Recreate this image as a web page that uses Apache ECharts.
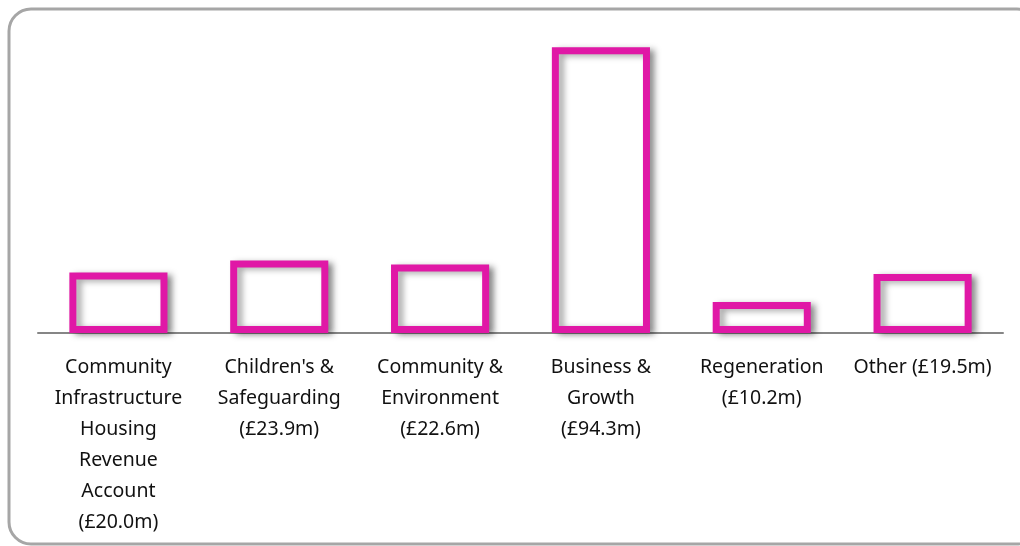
<!DOCTYPE html>
<html>
<head>
<meta charset="utf-8">
<script src="https://cdn.jsdelivr.net/npm/echarts@6/dist/echarts.min.js"></script>
<style>
  html, body { margin: 0; padding: 0; background: #fff; }
  #chart { width: 1020px; height: 546px; }
</style>
</head>
<body>
<div id="chart"></div>
<script>
// categories and spend (£m)
var categories = [
  'Community\nInfrastructure\nHousing\nRevenue\nAccount\n(£20.0m)',
  "Children's &\nSafeguarding\n(£23.9m)",
  'Community &\nEnvironment\n(£22.6m)',
  'Business &\nGrowth\n(£94.3m)',
  'Regeneration\n(£10.2m)',
  'Other (£19.5m)'
];
var values = [20.0, 23.9, 22.6, 94.3, 10.2, 19.5];

var myChart = echarts.init(document.getElementById('chart'));

myChart.setOption({
  animation: false,
  grid: { left: 38, right: 17, top: 30, bottom: 213 },
  // rounded frame
  graphic: [{
    type: 'rect',
    shape: { x: 9, y: 9, width: 1030, height: 535, r: 22 },
    style: { fill: 'none', stroke: '#a6a6a6', lineWidth: 3 },
    z: 0
  }],
  xAxis: {
    type: 'category',
    data: categories,
    axisLine: { lineStyle: { color: '#868686', width: 2 } },
    axisTick: { show: false },
    axisLabel: {
      interval: 0,
      margin: 19,
      color: '#111',
      fontFamily: 'Noto Sans',
      fontSize: 19.5,
      lineHeight: 31
    }
  },
  yAxis: {
    type: 'value',
    min: 0,
    max: 100,
    show: false,
    splitLine: { show: false }
  },
  series: [{
    type: 'bar',
    data: values,
    barWidth: '61%',
    itemStyle: {
      color: '#ffffff',
      borderColor: '#e018a6',
      borderWidth: 7,
      shadowColor: 'rgba(0,0,0,0.35)',
      shadowBlur: 6,
      shadowOffsetX: 5,
      shadowOffsetY: 2
    }
  }]
});
</script>
</body>
</html>
